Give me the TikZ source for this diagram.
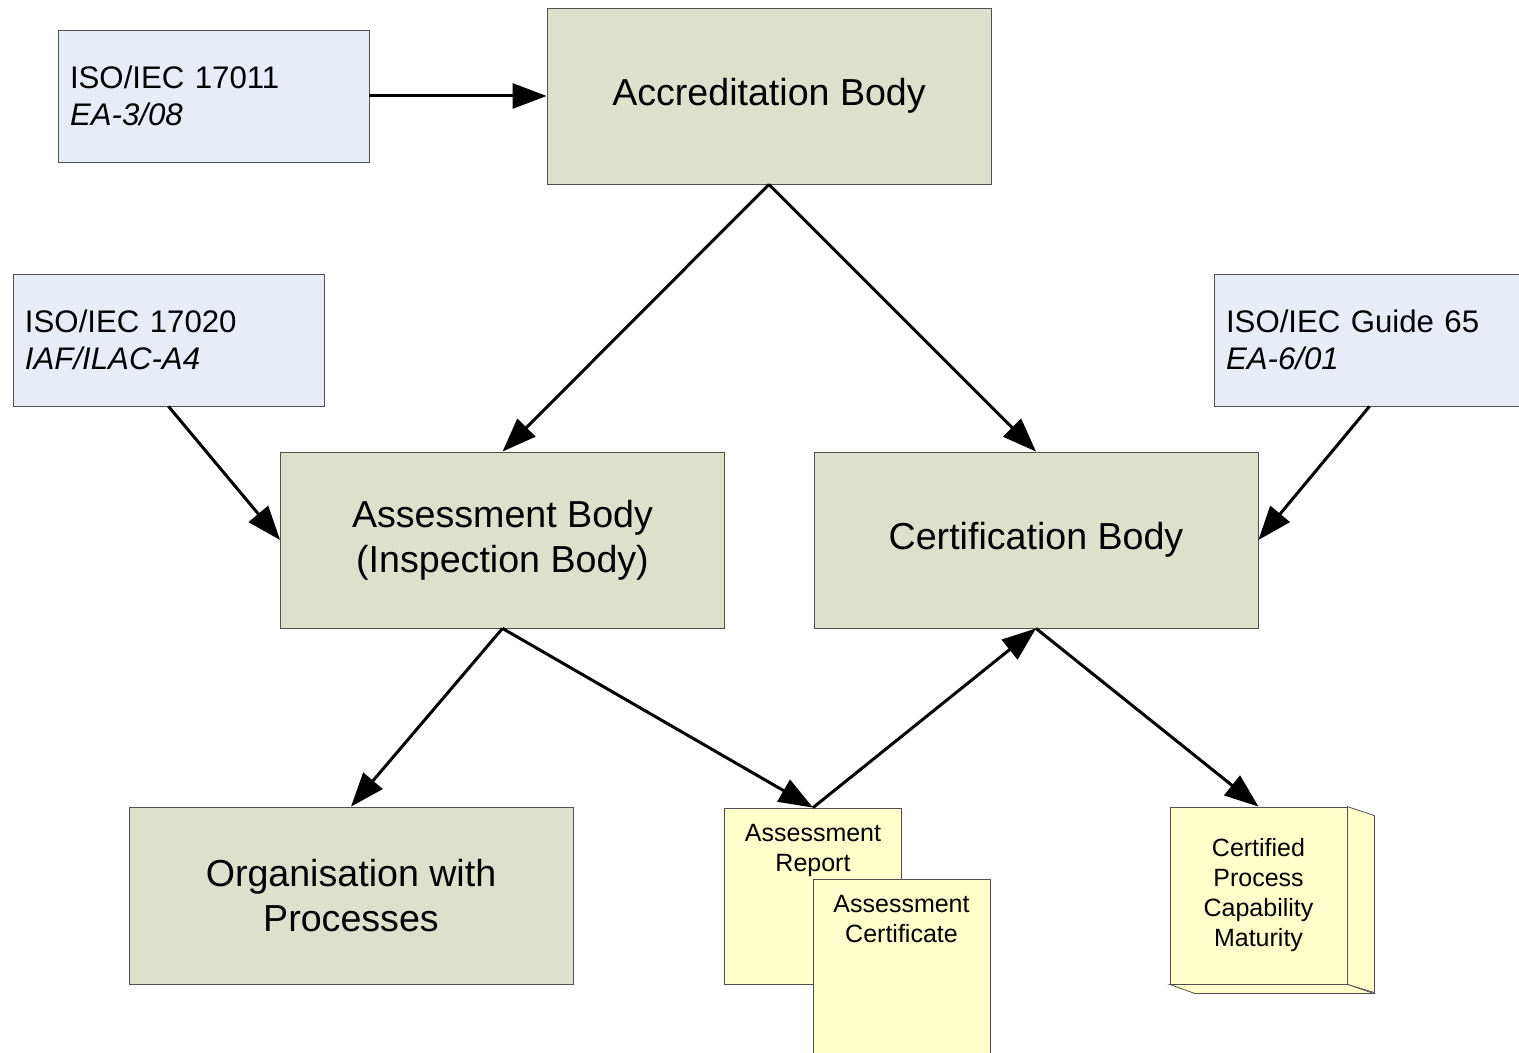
\documentclass[tikz,border=0pt]{standalone}
\usepackage{fontspec}
\setmainfont{Liberation Sans}
\usetikzlibrary{arrows.meta,positioning}
\definecolor{stdblue}{HTML}{E7ECF7}
\definecolor{bodygreen}{HTML}{DDE1CB}
\definecolor{docyellow}{HTML}{FFFFCC}
\definecolor{edgegray}{HTML}{505050}

\begin{document}
\begin{tikzpicture}[
  x=0.5pt, y=-0.5pt,
  std/.style={draw=edgegray,fill=stdblue,minimum width=155.5pt,minimum height=66pt,inner xsep=6pt,text width=143.5pt,align=left,font=\fontsize{15.6}{18.5}\selectfont},
  body/.style={draw=edgegray,fill=bodygreen,minimum width=222pt,minimum height=88pt,align=center,font=\fontsize{18.8}{22.5}\selectfont},
  doc/.style={draw=edgegray,fill=docyellow,minimum width=88.5pt,minimum height=88pt},
  small/.style={inner sep=0pt,align=center,font=\fontsize{12.5}{15}\selectfont},
  arr/.style={-{Triangle[length=17pt,width=12.5pt]},line width=1.5pt}
]
\useasboundingbox (0,0) rectangle (1519,1053);
% standards
\node[std] (iso11) at (213.5,96) {ISO/IEC 17011\\\textit{EA-3/08}};
\node[std] (iso20) at (168.5,340) {ISO/IEC 17020\\\textit{IAF/ILAC-A4}};
\node[std] (iso65) at (1369.5,340) {ISO/IEC Guide 65\\\textit{EA-6/01}};
% bodies
\node[body] (acc) at (769,96) {Accreditation Body};
\node[body] (ab) at (502.5,540) {Assessment Body\\(Inspection Body)};
\node[body] (cb) at (1036,540) {Certification Body};
\node[body,minimum height=88.5pt] (org) at (351,895.5) {Organisation with\\Processes};
% documents
\node[doc] (rep) at (813,896) {};
\node[small,below=8pt of rep.north] (reptxt) {Assessment\\Report};
\node[doc,minimum height=88.5pt] (cert) at (901.5,967.5) {};
\node[small,below=8pt of cert.north] (certtxt) {Assessment\\Certificate};
\node[doc,minimum height=88.5pt,small] (cpcm) at (1258.5,895.5) {Certified\\Process\\Capability\\Maturity};
\filldraw[draw=edgegray,fill=docyellow] (cpcm.north east) -- ++(27,9) -- ++(0,177) -- (cpcm.south east) -- cycle;
\filldraw[draw=edgegray,fill=docyellow] (cpcm.south west) -- ++(25,9) -- ++(179,0) -- (cpcm.south east) -- cycle;
% connectors
\draw[arr] (iso11) -- (acc);
\draw[arr] (acc.south) -- (ab.north);
\draw[arr] (acc.south) -- (cb.north);
\draw[arr] (iso20.south) -- (ab.west);
\draw[arr] (iso65.south) -- (cb.east);
\draw[arr] (ab.south) -- (org.north);
\draw[arr] (ab.south) -- (rep.north);
\draw[arr] (rep.north) -- (cb.south);
\draw[arr] (cb.south) -- (cpcm.north);
\end{tikzpicture}
\end{document}
